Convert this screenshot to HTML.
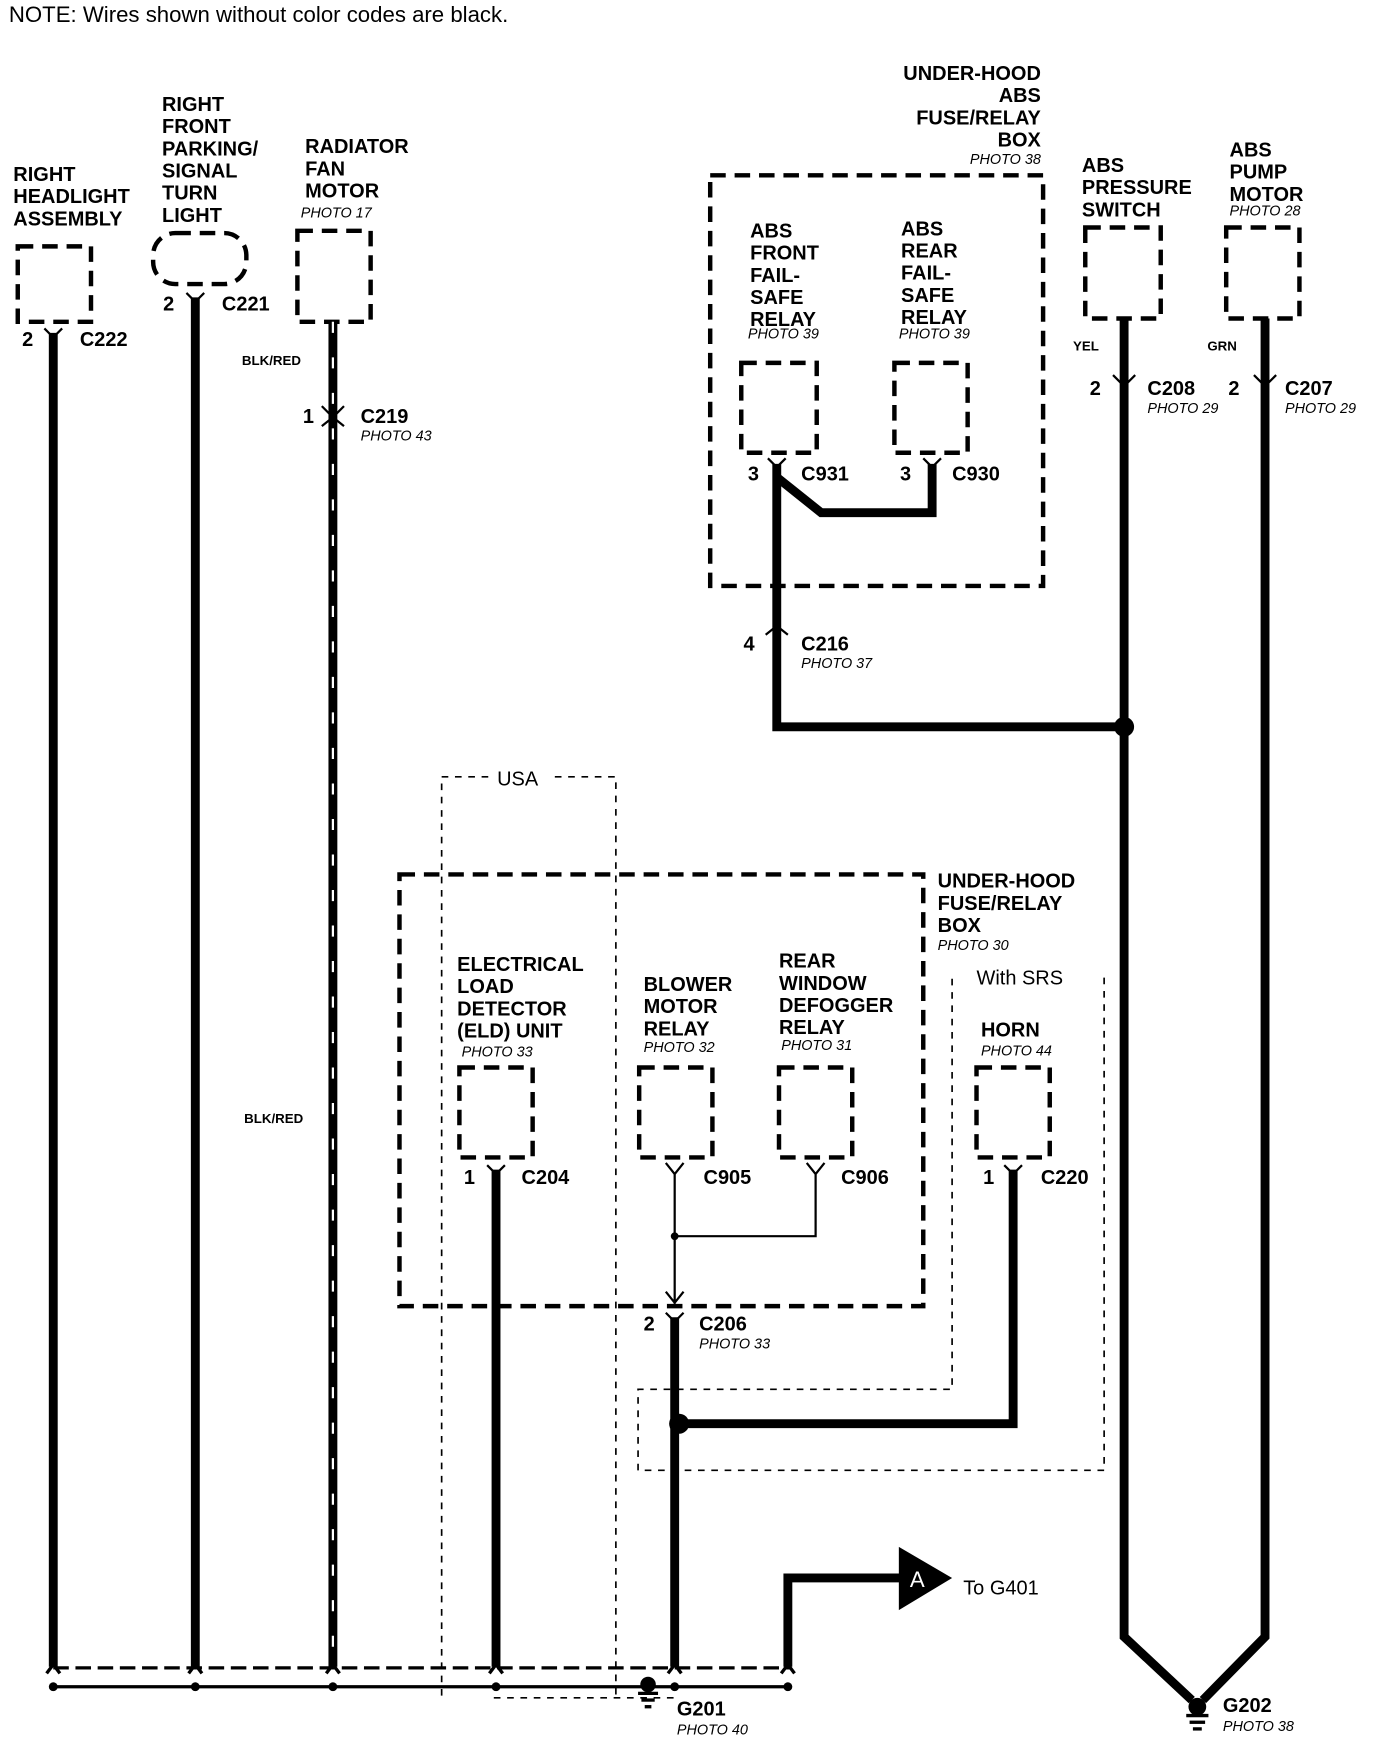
<!DOCTYPE html>
<html><head><meta charset="utf-8"><style>
html,body{margin:0;padding:0;background:#fff;}
svg{display:block;}
text{font-family:"Liberation Sans",sans-serif;fill:#000;}
.b{font-weight:bold;font-size:18px;}
.p{font-style:italic;font-size:13px;}
.s{font-weight:bold;font-size:12px;}
.box{fill:none;stroke:#000;stroke-width:4;stroke-dasharray:14,8;}
.w{fill:none;stroke:#000;stroke-width:8;}
.t{fill:none;stroke:#000;stroke-width:2;}
.d{fill:none;stroke:#000;stroke-width:1.5;stroke-dasharray:6,6;}
</style></head><body>
<svg width="1376" height="1744" viewBox="0 0 1240 1571.6" preserveAspectRatio="none" xmlns="http://www.w3.org/2000/svg">
<text x="8" y="20" font-size="20">NOTE: Wires shown without color codes are black.</text>

<!-- headlight -->
<text class="b" x="12" y="163">RIGHT</text><text class="b" x="12" y="183">HEADLIGHT</text><text class="b" x="12" y="203">ASSEMBLY</text>
<rect class="box" x="16" y="222" width="66" height="68"/>
<path class="t" d="M40 296 L48 304 L56 296" stroke-width="4"/>
<line class="w" x1="48" y1="300" x2="48" y2="1502"/>
<text class="b" x="20" y="312">2</text><text class="b" x="72" y="312">C222</text>

<!-- parking -->
<text class="b" x="146" y="100">RIGHT</text><text class="b" x="146" y="120">FRONT</text><text class="b" x="146" y="140">PARKING/</text><text class="b" x="146" y="160">SIGNAL</text><text class="b" x="146" y="180">TURN</text><text class="b" x="146" y="200">LIGHT</text>
<rect class="box" x="138" y="210" width="84" height="46" rx="20"/>
<path class="t" d="M168 264 L176 272 L184 264" stroke-width="4"/>
<line class="w" x1="176" y1="268" x2="176" y2="1502"/>
<text class="b" x="147" y="280">2</text><text class="b" x="200" y="280">C221</text>

<!-- radiator -->
<text class="b" x="275" y="138">RADIATOR</text><text class="b" x="275" y="158">FAN</text><text class="b" x="275" y="178">MOTOR</text>
<text class="p" x="271" y="196">PHOTO 17</text>
<rect class="box" x="268" y="208" width="66" height="82"/>
<line class="w" x1="300" y1="290" x2="300" y2="1502"/>
<line x1="300" y1="290" x2="300" y2="1502" stroke="#fff" stroke-width="2" stroke-dasharray="10,22"/>
<path class="t" d="M290 366 L300 376 L310 366" stroke-width="3"/>
<path class="t" d="M290 384 L300 376 L310 384" stroke-width="3"/>
<text class="s" x="218" y="329">BLK/RED</text>
<text class="b" x="273" y="381">1</text><text class="b" x="325" y="381">C219</text><text class="p" x="325" y="397">PHOTO 43</text>
<text class="s" x="220" y="1012">BLK/RED</text>

<!-- ABS fuse box -->
<text class="b" x="938" y="72" text-anchor="end">UNDER-HOOD</text><text class="b" x="938" y="92" text-anchor="end">ABS</text><text class="b" x="938" y="112" text-anchor="end">FUSE/RELAY</text><text class="b" x="938" y="132" text-anchor="end">BOX</text>
<text class="p" x="938" y="148" text-anchor="end">PHOTO 38</text>
<rect class="box" x="640" y="158" width="300" height="370"/>
<text class="b" x="676" y="214">ABS</text><text class="b" x="676" y="234">FRONT</text><text class="b" x="676" y="254">FAIL-</text><text class="b" x="676" y="274">SAFE</text><text class="b" x="676" y="294">RELAY</text>
<text class="p" x="674" y="305">PHOTO 39</text>
<text class="b" x="812" y="212">ABS</text><text class="b" x="812" y="232">REAR</text><text class="b" x="812" y="252">FAIL-</text><text class="b" x="812" y="272">SAFE</text><text class="b" x="812" y="292">RELAY</text>
<text class="p" x="810" y="305">PHOTO 39</text>
<rect class="box" x="668" y="327" width="68" height="81"/>
<rect class="box" x="806" y="327" width="66" height="81"/>
<path class="t" d="M692 413 L700 421 L708 413" stroke-width="4"/>
<path class="t" d="M832 413 L840 421 L848 413" stroke-width="4"/>
<text class="b" x="674" y="433">3</text><text class="b" x="722" y="433">C931</text>
<text class="b" x="811" y="433">3</text><text class="b" x="858" y="433">C930</text>
<path class="w" d="M700 418 L700 655 L1013 655"/>
<path class="w" d="M700 430 L740 462 L840 462 L840 418"/>
<path class="t" d="M690 572 L700 564 L710 572" stroke-width="3"/>
<text class="b" x="670" y="586">4</text><text class="b" x="722" y="586">C216</text><text class="p" x="722" y="602">PHOTO 37</text>

<!-- ABS pressure / pump -->
<text class="b" x="975" y="155">ABS</text><text class="b" x="975" y="175">PRESSURE</text><text class="b" x="975" y="195">SWITCH</text>
<rect class="box" x="978" y="205" width="68" height="82"/>
<text class="b" x="1108" y="141">ABS</text><text class="b" x="1108" y="161">PUMP</text><text class="b" x="1108" y="181">MOTOR</text>
<text class="p" x="1108" y="194">PHOTO 28</text>
<rect class="box" x="1105" y="205" width="66" height="82"/>
<text class="s" x="967" y="316">YEL</text><text class="s" x="1088" y="316">GRN</text>
<path class="w" d="M1013 287 L1013 1475 L1074 1532"/>
<path class="w" d="M1140 287 L1140 1475 L1084 1532"/>
<path class="t" d="M1003 338 L1013 348 L1023 338" stroke-width="3"/>
<path class="t" d="M1130 338 L1140 348 L1150 338" stroke-width="3"/>
<text class="b" x="982" y="356">2</text><text class="b" x="1034" y="356">C208</text><text class="p" x="1034" y="372">PHOTO 29</text>
<text class="b" x="1107" y="356">2</text><text class="b" x="1158" y="356">C207</text><text class="p" x="1158" y="372">PHOTO 29</text>
<circle cx="1013" cy="655" r="9"/>
<circle cx="1079" cy="1538" r="8"/>
<line x1="1069" y1="1546" x2="1089" y2="1546" stroke="#000" stroke-width="3"/>
<line x1="1072" y1="1552" x2="1086" y2="1552" stroke="#000" stroke-width="3"/>
<line x1="1075" y1="1558" x2="1083" y2="1558" stroke="#000" stroke-width="3"/>
<text class="b" x="1102" y="1543">G202</text><text class="p" x="1102" y="1560">PHOTO 38</text>

<!-- USA box -->
<path class="d" d="M440 700 L398 700 L398 1530 M500 700 L555 700 L555 1530 M445 1530 L610 1530"/>
<text x="448" y="708" font-size="18">USA</text>

<!-- under-hood box -->
<rect class="box" x="360" y="788" width="472" height="389"/>
<text class="b" x="845" y="800">UNDER-HOOD</text><text class="b" x="845" y="820">FUSE/RELAY</text><text class="b" x="845" y="840">BOX</text>
<text class="p" x="845" y="856">PHOTO 30</text>

<!-- SRS -->
<path class="d" d="M858 882 L858 1252 L575 1252 L575 1325 L995 1325 L995 880"/>
<text x="880" y="887" font-size="18">With SRS</text>

<text class="b" x="412" y="875">ELECTRICAL</text><text class="b" x="412" y="895">LOAD</text><text class="b" x="412" y="915">DETECTOR</text><text class="b" x="412" y="935">(ELD) UNIT</text>
<text class="p" x="416" y="952">PHOTO 33</text>
<rect class="box" x="414" y="962" width="66" height="81"/>
<path class="t" d="M439 1050 L447 1058 L455 1050" stroke-width="4"/>
<line class="w" x1="447" y1="1054" x2="447" y2="1502"/>
<text class="b" x="418" y="1067">1</text><text class="b" x="470" y="1067">C204</text>

<text class="b" x="580" y="893">BLOWER</text><text class="b" x="580" y="913">MOTOR</text><text class="b" x="580" y="933">RELAY</text>
<text class="p" x="580" y="948">PHOTO 32</text>
<rect class="box" x="576" y="962" width="66" height="81"/>
<text class="b" x="702" y="872">REAR</text><text class="b" x="702" y="892">WINDOW</text><text class="b" x="702" y="912">DEFOGGER</text><text class="b" x="702" y="932">RELAY</text>
<text class="p" x="704" y="946">PHOTO 31</text>
<rect class="box" x="702" y="962" width="66" height="81"/>
<path class="t" d="M600 1048 L608 1058 L616 1048 M608 1058 L608 1175 M608 1114 L735 1114 L735 1058 M727 1048 L735 1058 L743 1048 M600 1164 L608 1174 L616 1164"/>
<circle cx="608" cy="1114" r="3.5"/>
<text class="b" x="634" y="1067">C905</text><text class="b" x="758" y="1067">C906</text>

<path class="t" d="M600 1183 L608 1191 L616 1183" stroke-width="4"/>
<line class="w" x1="608" y1="1187" x2="608" y2="1502"/>
<text class="b" x="580" y="1199">2</text><text class="b" x="630" y="1199">C206</text><text class="p" x="630" y="1215">PHOTO 33</text>

<text class="b" x="884" y="934">HORN</text><text class="p" x="884" y="951">PHOTO 44</text>
<rect class="box" x="880" y="962" width="66" height="81"/>
<path class="t" d="M905 1050 L913 1058 L921 1050" stroke-width="4"/>
<path class="w" d="M913 1054 L913 1283 L612 1283"/>
<circle cx="612" cy="1283" r="9"/>
<text class="b" x="886" y="1067">1</text><text class="b" x="938" y="1067">C220</text>

<!-- to G401 -->
<path class="w" d="M710 1502 L710 1422 L815 1422"/>
<polygon points="810,1394 858,1422 810,1451"/>
<text x="820" y="1430" font-size="20" style="fill:#fff">A</text>
<text x="868" y="1437" font-size="18">To G401</text>

<!-- bottom bus -->
<line x1="48" y1="1503" x2="712" y2="1503" stroke="#000" stroke-width="3" stroke-dasharray="14,6"/>
<line x1="48" y1="1520" x2="712" y2="1520" stroke="#000" stroke-width="3"/>
<g fill="#000">
<circle cx="48" cy="1520" r="4"/><circle cx="176" cy="1520" r="4"/><circle cx="300" cy="1520" r="4"/><circle cx="447" cy="1520" r="4"/><circle cx="608" cy="1520" r="4"/><circle cx="710" cy="1520" r="4"/>
</g>
<g fill="none" stroke="#000" stroke-width="3">
<path d="M42 1508 L48 1500 L54 1508"/><path d="M170 1508 L176 1500 L182 1508"/><path d="M294 1508 L300 1500 L306 1508"/><path d="M441 1508 L447 1500 L453 1508"/><path d="M602 1508 L608 1500 L614 1508"/><path d="M704 1508 L710 1500 L716 1508"/>
</g>
<circle cx="584" cy="1518" r="7"/>
<line x1="575" y1="1526" x2="593" y2="1526" stroke="#000" stroke-width="3"/>
<line x1="578" y1="1532" x2="590" y2="1532" stroke="#000" stroke-width="3"/>
<line x1="581" y1="1538" x2="587" y2="1538" stroke="#000" stroke-width="3"/>
<text class="b" x="610" y="1546">G201</text><text class="p" x="610" y="1563">PHOTO 40</text>
</svg>
</body></html>
